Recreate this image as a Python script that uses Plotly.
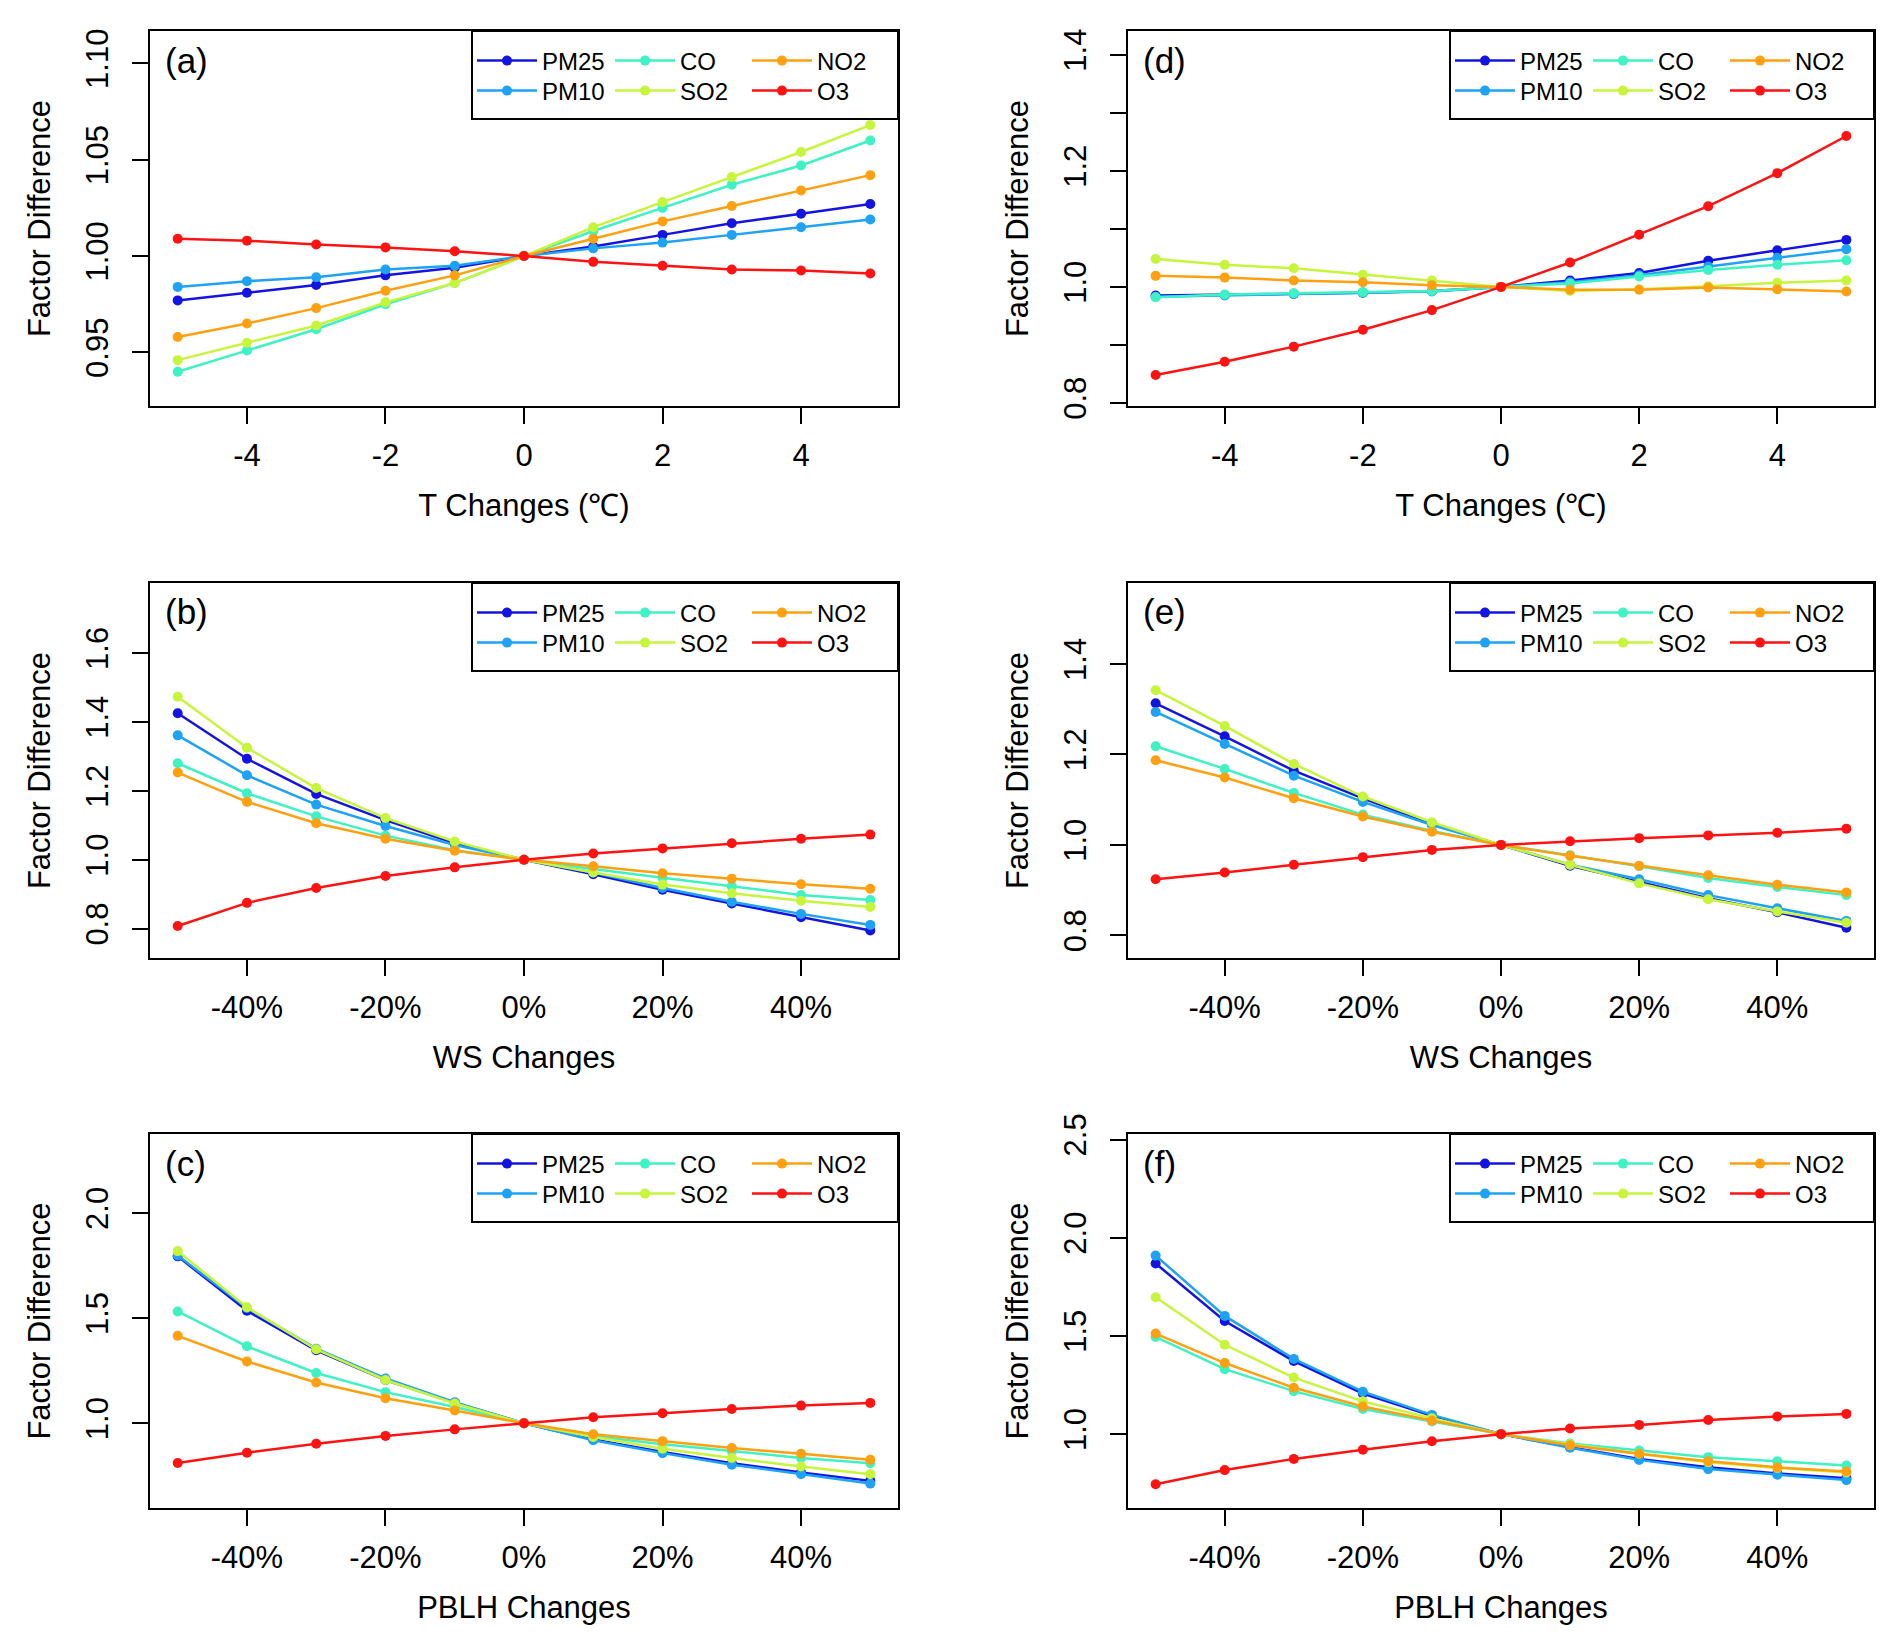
import plotly.graph_objects as go

# ---------------- data ----------------
t_changes = [-5, -4, -3, -2, -1, 0, 1, 2, 3, 4, 5]
pct_changes = [-50, -40, -30, -20, -10, 0, 10, 20, 30, 40, 50]
pollutants = ["PM25", "PM10", "CO", "SO2", "NO2", "O3"]
colors = ["#1414E2", "#1EA2F4", "#3EF2C4", "#C6F53C", "#FFA010", "#FF1212"]

t_ticks = [-4, -2, 0, 2, 4]
t_ticklabels = ["-4", "-2", "0", "2", "4"]
pct_ticks = [-40, -20, 0, 20, 40]
pct_ticklabels = ["-40%", "-20%", "0%", "20%", "40%"]

# (a) T changes, left column
a_pm25 = [0.977, 0.981, 0.985, 0.990, 0.994, 1.000, 1.005, 1.011, 1.017, 1.022, 1.027]
a_pm10 = [0.984, 0.987, 0.989, 0.993, 0.995, 1.000, 1.004, 1.007, 1.011, 1.015, 1.019]
a_co = [0.940, 0.951, 0.962, 0.975, 0.986, 1.000, 1.013, 1.025, 1.037, 1.047, 1.060]
a_so2 = [0.946, 0.955, 0.964, 0.976, 0.986, 1.000, 1.015, 1.028, 1.041, 1.054, 1.068]
a_no2 = [0.958, 0.965, 0.973, 0.982, 0.990, 1.000, 1.009, 1.018, 1.026, 1.034, 1.042]
a_o3 = [1.009, 1.008, 1.006, 1.0045, 1.0025, 1.000, 0.997, 0.995, 0.993, 0.9925, 0.991]

# (d) T changes, right column
d_pm25 = [0.985, 0.986, 0.988, 0.990, 0.993, 1.000, 1.011, 1.024, 1.045, 1.063, 1.081]
d_pm10 = [0.983, 0.985, 0.988, 0.990, 0.992, 1.000, 1.008, 1.020, 1.035, 1.050, 1.065]
d_co = [0.982, 0.987, 0.989, 0.991, 0.993, 1.000, 1.006, 1.018, 1.029, 1.038, 1.046]
d_so2 = [1.048, 1.038, 1.032, 1.021, 1.011, 1.000, 0.993, 0.996, 1.001, 1.007, 1.011]
d_no2 = [1.019, 1.016, 1.011, 1.008, 1.003, 1.000, 0.995, 0.995, 0.999, 0.996, 0.992]
d_o3 = [0.848, 0.871, 0.897, 0.926, 0.960, 1.000, 1.042, 1.090, 1.139, 1.196, 1.260]

# (b) WS changes, left column
b_pm25 = [1.425, 1.293, 1.191, 1.115, 1.048, 1.000, 0.958, 0.913, 0.873, 0.833, 0.795]
b_pm10 = [1.361, 1.245, 1.160, 1.098, 1.043, 1.000, 0.963, 0.918, 0.878, 0.843, 0.811]
b_co = [1.280, 1.193, 1.126, 1.070, 1.028, 1.000, 0.973, 0.948, 0.923, 0.898, 0.883]
b_so2 = [1.473, 1.325, 1.208, 1.121, 1.053, 1.000, 0.963, 0.928, 0.903, 0.881, 0.863]
b_no2 = [1.253, 1.168, 1.106, 1.061, 1.026, 1.000, 0.981, 0.961, 0.945, 0.929, 0.916]
b_o3 = [0.808, 0.875, 0.918, 0.953, 0.978, 1.000, 1.018, 1.033, 1.048, 1.061, 1.073]

# (e) WS changes, right column
e_pm25 = [1.313, 1.240, 1.164, 1.103, 1.046, 1.000, 0.954, 0.918, 0.882, 0.851, 0.817]
e_pm10 = [1.294, 1.223, 1.153, 1.095, 1.044, 1.000, 0.956, 0.924, 0.889, 0.860, 0.832]
e_co = [1.218, 1.168, 1.115, 1.067, 1.031, 1.000, 0.977, 0.953, 0.927, 0.907, 0.889]
e_so2 = [1.342, 1.263, 1.179, 1.107, 1.050, 1.000, 0.956, 0.915, 0.880, 0.853, 0.828]
e_no2 = [1.187, 1.149, 1.103, 1.063, 1.029, 1.000, 0.976, 0.954, 0.933, 0.912, 0.895]
e_o3 = [0.924, 0.939, 0.956, 0.973, 0.989, 1.000, 1.008, 1.015, 1.021, 1.027, 1.036]

# (c) PBLH changes, left column
c_pm25 = [1.794, 1.535, 1.347, 1.206, 1.097, 1.000, 0.923, 0.863, 0.810, 0.766, 0.726]
c_pm10 = [1.798, 1.548, 1.355, 1.213, 1.100, 1.000, 0.919, 0.858, 0.803, 0.758, 0.713]
c_co = [1.532, 1.366, 1.239, 1.148, 1.077, 1.000, 0.940, 0.900, 0.868, 0.835, 0.810]
c_so2 = [1.819, 1.552, 1.352, 1.206, 1.094, 1.000, 0.935, 0.879, 0.835, 0.794, 0.758]
c_no2 = [1.416, 1.294, 1.194, 1.119, 1.061, 1.000, 0.948, 0.915, 0.882, 0.855, 0.826]
c_o3 = [0.811, 0.860, 0.903, 0.940, 0.971, 1.000, 1.029, 1.048, 1.068, 1.084, 1.097]

# (f) PBLH changes, right column
f_pm25 = [1.869, 1.576, 1.372, 1.207, 1.093, 1.000, 0.934, 0.874, 0.831, 0.800, 0.776]
f_pm10 = [1.909, 1.602, 1.383, 1.216, 1.098, 1.000, 0.931, 0.869, 0.822, 0.793, 0.766]
f_co = [1.495, 1.331, 1.219, 1.128, 1.064, 1.000, 0.952, 0.917, 0.883, 0.862, 0.840]
f_so2 = [1.697, 1.455, 1.288, 1.167, 1.081, 1.000, 0.948, 0.900, 0.857, 0.828, 0.805]
f_no2 = [1.512, 1.362, 1.236, 1.141, 1.069, 1.000, 0.943, 0.900, 0.862, 0.831, 0.810]
f_o3 = [0.745, 0.817, 0.874, 0.921, 0.964, 1.000, 1.029, 1.047, 1.072, 1.090, 1.103]

# y axis ranges and ticks per panel
a_yrange = [0.9222, 1.1168]; a_yticks = [0.95, 1.00, 1.05, 1.10]; a_ylabels = ["0.95", "1.00", "1.05", "1.10"]
d_yrange = [0.7947, 1.441]; d_yticks = [0.8, 0.9, 1.0, 1.1, 1.2, 1.3, 1.4]; d_ylabels = ["0.8", "", "1.0", "", "1.2", "", "1.4"]
b_yrange = [0.715, 1.803]; b_yticks = [0.8, 1.0, 1.2, 1.4, 1.6]; b_ylabels = ["0.8", "1.0", "1.2", "1.4", "1.6"]
e_yrange = [0.750, 1.579]; e_yticks = [0.8, 1.0, 1.2, 1.4]; e_ylabels = ["0.8", "1.0", "1.2", "1.4"]
c_yrange = [0.597, 2.376]; c_yticks = [1.0, 1.5, 2.0]; c_ylabels = ["1.0", "1.5", "2.0"]
f_yrange = [0.624, 2.528]; f_yticks = [1.0, 1.5, 2.0, 2.5]; f_ylabels = ["1.0", "1.5", "2.0", "2.5"]

# ---------------- layout geometry (pixels) ----------------
W, H = 1892, 1641
col_px = [(142, 890), (1120, 1866)]
row_px = [(23, 398), (575, 950), (1126, 1500)]
ML, MR, MT, MB = col_px[0][0], W - col_px[1][1], row_px[0][0], H - row_px[2][1]
PW, PH = W - ML - MR, H - MT - MB

def xdom(c):
    return [(col_px[c][0] - ML) / PW, (col_px[c][1] - ML) / PW]

def ydom(r):
    return [1 - (row_px[r][1] - MT) / PH, 1 - (row_px[r][0] - MT) / PH]

FONT = "Liberation Sans, Arial, sans-serif"

panels = [
    ("(a)", 0, 0, t_changes, t_ticks, t_ticklabels, "T Changes (℃)",
     [a_pm25, a_pm10, a_co, a_so2, a_no2, a_o3], a_yrange, a_yticks, a_ylabels),
    ("(d)", 0, 1, t_changes, t_ticks, t_ticklabels, "T Changes (℃)",
     [d_pm25, d_pm10, d_co, d_so2, d_no2, d_o3], d_yrange, d_yticks, d_ylabels),
    ("(b)", 1, 0, pct_changes, pct_ticks, pct_ticklabels, "WS Changes",
     [b_pm25, b_pm10, b_co, b_so2, b_no2, b_o3], b_yrange, b_yticks, b_ylabels),
    ("(e)", 1, 1, pct_changes, pct_ticks, pct_ticklabels, "WS Changes",
     [e_pm25, e_pm10, e_co, e_so2, e_no2, e_o3], e_yrange, e_yticks, e_ylabels),
    ("(c)", 2, 0, pct_changes, pct_ticks, pct_ticklabels, "PBLH Changes",
     [c_pm25, c_pm10, c_co, c_so2, c_no2, c_o3], c_yrange, c_yticks, c_ylabels),
    ("(f)", 2, 1, pct_changes, pct_ticks, pct_ticklabels, "PBLH Changes",
     [f_pm25, f_pm10, f_co, f_so2, f_no2, f_o3], f_yrange, f_yticks, f_ylabels),
]

# legend grid of R's legend(ncol=3): entry j -> (column, row)
legend_cell = {0: (0, 0), 1: (0, 1), 2: (1, 0), 3: (1, 1), 4: (2, 0), 5: (2, 1)}
legend_col_offsets = [327, 465, 602]   # line-sample start, px from panel left
legend_row_offsets = [30, 60]          # row centre, px from panel top

fig = go.Figure()
layout = dict(
    width=W, height=H,
    margin=dict(l=ML, r=MR, t=MT, b=MB, autoexpand=False),
    paper_bgcolor="white", plot_bgcolor="white",
    font=dict(family=FONT, size=31, color="black"),
    showlegend=True,
)
annotations = []
shapes = []

legend_idx = 0
for i, (lab, r, c, xs, xt, xtl, xtitle, series, yr, ytv, ytl) in enumerate(panels):
    n = "" if i == 0 else str(i + 1)
    xa, ya = "x" + n, "y" + n
    span = xs[-1] - xs[0]
    xr = [xs[0] - 0.04 * span, xs[-1] + 0.04 * span]
    layout["xaxis" + n] = dict(
        domain=xdom(c), anchor=ya, range=xr, tickmode="array", tickvals=xt, ticktext=xtl,
        showline=True, mirror=True, linecolor="black", linewidth=2,
        ticks="outside", ticklen=16, tickwidth=2, tickcolor="black",
        showgrid=False, zeroline=False, ticklabelstandoff=5,
        tickfont=dict(size=31),
        title=dict(text=xtitle, font=dict(size=31), standoff=22),
    )
    layout["yaxis" + n] = dict(
        domain=ydom(r), anchor=xa, range=yr, tickmode="array", tickvals=ytv, ticktext=ytl,
        showline=True, mirror=True, linecolor="black", linewidth=2,
        ticks="outside", ticklen=16, tickwidth=2, tickcolor="black",
        showgrid=False, zeroline=False, tickangle=-90, ticklabelstandoff=12,
        tickfont=dict(size=31),
        title=dict(text="Factor Difference", font=dict(size=31), standoff=20),
    )
    x0p, x1p = col_px[c]
    y0p, y1p = row_px[r]
    bw = x1p - x0p
    bh = y1p - y0p
    # legend frame (R style, top-right of panel)
    shapes.append(dict(type="rect", xref=xa + " domain", yref=ya + " domain",
                       x0=322 / bw, x1=1.0, y0=1 - 88 / bh, y1=1.0,
                       line=dict(color="black", width=2), fillcolor="rgba(0,0,0,0)"))
    for j in range(6):
        legend_idx += 1
        lname = "legend" if legend_idx == 1 else "legend" + str(legend_idx)
        cc, rr = legend_cell[j]
        lx = (x0p + legend_col_offsets[cc] - 5 - ML) / PW
        ly = 1 - (y0p + legend_row_offsets[rr] - MT) / PH
        layout[lname] = dict(
            x=lx, y=ly, xanchor="left", yanchor="middle", xref="paper", yref="paper",
            bgcolor="rgba(0,0,0,0)", borderwidth=0, tracegroupgap=0,
            font=dict(family=FONT, size=24, color="black"), itemwidth=60,
            orientation="v",
        )
        fig.add_trace(go.Scatter(
            x=xs, y=series[j], name=pollutants[j], mode="lines+markers",
            line=dict(color=colors[j], width=2.5),
            marker=dict(color=colors[j], size=10),
            xaxis=xa, yaxis=ya, legend=lname, showlegend=True,
        ))
    annotations.append(dict(text=lab, xref=xa + " domain", yref=ya + " domain",
                            x=13 / bw, y=1 - 29 / bh, xanchor="left", yanchor="middle",
                            showarrow=False, font=dict(size=35)))

layout["annotations"] = annotations
layout["shapes"] = shapes
fig.update_layout(**layout)
fig.write_html("out.html")
